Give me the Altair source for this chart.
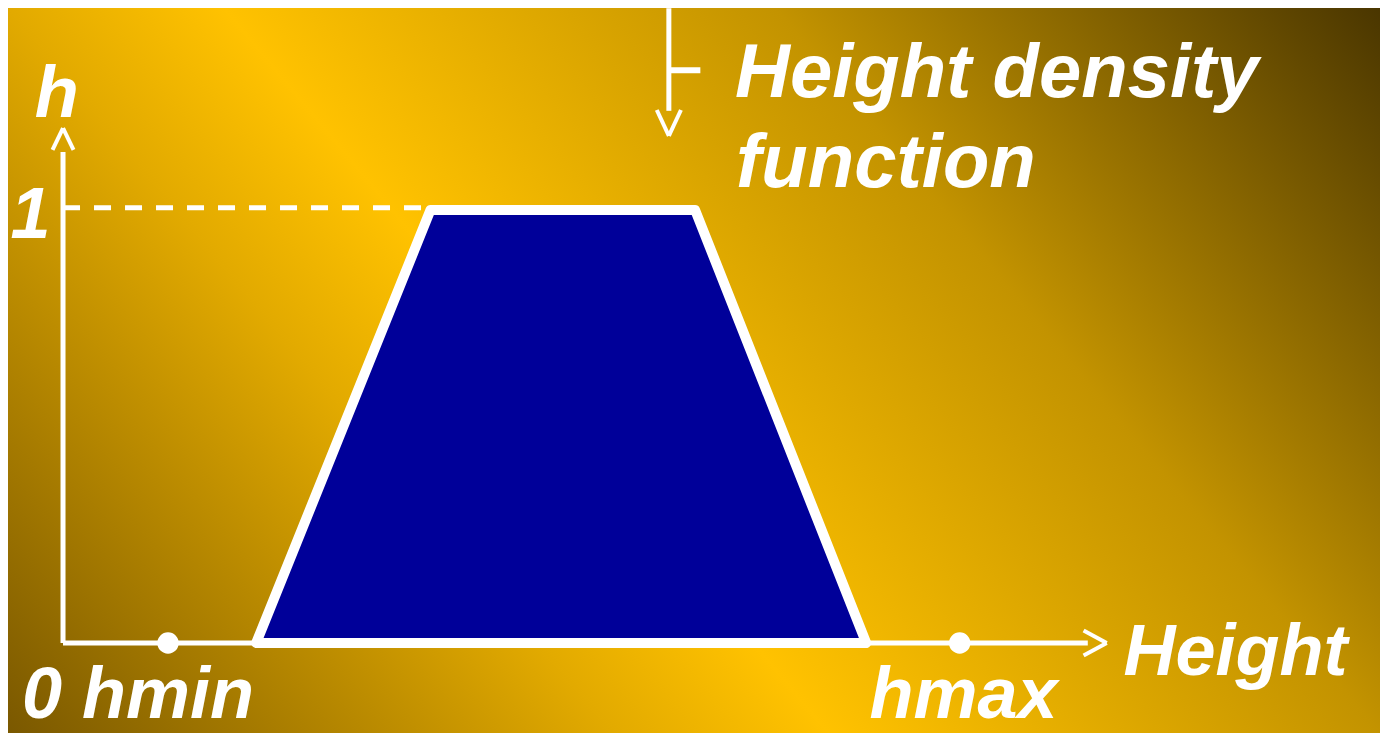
import altair as alt
import pandas as pd

# ---------------- data ----------------
# trapezoidal height density function: vertices (height units, density h)
trap_x = [1.84, 3.50, 6.02, 7.65]
trap_h = [0.0, 1.0, 1.0, 0.0]

# marked heights on the horizontal axis
mark_names = ["hmin", "hmax"]
mark_x = [1.0, 8.54]
mark_h = [0.0, 0.0]

# density level 1 (dashed guide)
level_value = 1.0

# labels
label_text = ["h", "1", "Height density", "function", "Height", "hmax", "0 hmin"]

# ---------------- layout helpers (positions in data units) ----------------
X_DOM = [-0.524, 12.543]
Y_DOM = [-0.2079, 1.4665]
W, H = 1372, 725

label_x = [-0.27, -0.50, 6.40, 6.41, 10.10, 7.68, -0.39]
label_y = [1.215, 0.935, 1.261, 1.053, -0.074, -0.174, -0.174]
label_fs = [72, 72, 76, 76, 72, 72, 72]

xs = alt.Scale(domain=X_DOM, nice=False, zero=False)
ys = alt.Scale(domain=Y_DOM, nice=False, zero=False)

bg = pd.DataFrame({"x": [X_DOM[0]], "x2": [X_DOM[1]], "y": [Y_DOM[0]], "y2": [Y_DOM[1]]})
grad = alt.LinearGradient(
    gradient="linear",
    x1=0, y1=1, x2=1.2064, y2=0.4688,
    stops=[
        alt.GradientStop(color="#7a5800", offset=0.0),
        alt.GradientStop(color="#e2aa00", offset=0.306),
        alt.GradientStop(color="#ffc200", offset=0.415),
        alt.GradientStop(color="#c39300", offset=0.694),
        alt.GradientStop(color="#4a3600", offset=1.0),
    ],
)
background = alt.Chart(bg).mark_rect(fill=grad, stroke=None).encode(
    x=alt.X("x:Q", scale=xs, axis=None), x2="x2:Q",
    y=alt.Y("y:Q", scale=ys, axis=None), y2="y2:Q",
)

# axes and arrows (segments)
axis_segs = pd.DataFrame([
    {"x": 0.0, "y": 0.0, "x2": 0.0, "y2": 1.134, "w": 5},      # vertical axis
    {"x": 0.0, "y": 0.0, "x2": 9.76, "y2": 0.0, "w": 5},       # horizontal axis
    {"x": -0.10, "y": 1.139, "x2": 0.0, "y2": 1.189, "w": 4},  # y arrowhead
    {"x": 0.0, "y": 1.189, "x2": 0.10, "y2": 1.139, "w": 4},
    {"x": 9.72, "y": 0.029, "x2": 9.94, "y2": 0.0, "w": 4},    # x arrowhead
    {"x": 9.94, "y": 0.0, "x2": 9.72, "y2": -0.029, "w": 4},
    {"x": 5.77, "y": 1.466, "x2": 5.77, "y2": 1.229, "w": 5},  # pointer arrow stem
    {"x": 5.77, "y": 1.323, "x2": 6.07, "y2": 1.323, "w": 6},  # pointer tick
    {"x": 5.655, "y": 1.231, "x2": 5.77, "y2": 1.171, "w": 4},  # pointer head
    {"x": 5.77, "y": 1.171, "x2": 5.885, "y2": 1.231, "w": 4},
])
axes = alt.Chart(axis_segs).mark_rule(color="white", strokeCap="butt").encode(
    x=alt.X("x:Q", scale=xs, axis=None), x2="x2:Q",
    y=alt.Y("y:Q", scale=ys, axis=None), y2="y2:Q",
    strokeWidth=alt.StrokeWidth("w:Q", scale=None, legend=None),
)

dash_df = pd.DataFrame({"x": [0.0], "x2": [trap_x[1] - 0.005], "y": [level_value + 0.005]})
dashed = alt.Chart(dash_df).mark_rule(color="white", strokeWidth=5, strokeDash=[17, 14]).encode(
    x=alt.X("x:Q", scale=xs, axis=None), x2="x2:Q",
    y=alt.Y("y:Q", scale=ys, axis=None),
)

trap_df = pd.DataFrame({"x": trap_x, "h": trap_h, "base": [0.0] * 4})
trap = alt.Chart(trap_df).mark_area(
    color="#000099", stroke="white", strokeWidth=10, strokeJoin="round", opacity=1
).encode(
    x=alt.X("x:Q", scale=xs, axis=None),
    y=alt.Y("h:Q", scale=ys, axis=None), y2="base:Q",
)

pts_df = pd.DataFrame({"name": mark_names, "x": mark_x, "h": mark_h})
pts = alt.Chart(pts_df).mark_circle(color="white", size=460, opacity=1).encode(
    x=alt.X("x:Q", scale=xs, axis=None),
    y=alt.Y("h:Q", scale=ys, axis=None),
)

lab_df = pd.DataFrame({"t": label_text, "x": label_x, "y": label_y, "fs": label_fs})
labels = alt.Chart(lab_df).mark_text(
    align="left", baseline="alphabetic", font="Liberation Sans",
    fontStyle="italic", fontWeight="bold", color="white",
).encode(
    x=alt.X("x:Q", scale=xs, axis=None),
    y=alt.Y("y:Q", scale=ys, axis=None),
    size=alt.Size("fs:Q", scale=None, legend=None),
    text="t:N",
)

chart = alt.layer(background, dashed, axes, trap, pts, labels).properties(
    width=W, height=H,
    autosize=alt.AutoSizeParams(type="none"),
    padding=0,
    background="#e2aa00",
).configure_view(stroke=None)

chart.save("out.html", embed_options={"renderer": "svg", "actions": False})
